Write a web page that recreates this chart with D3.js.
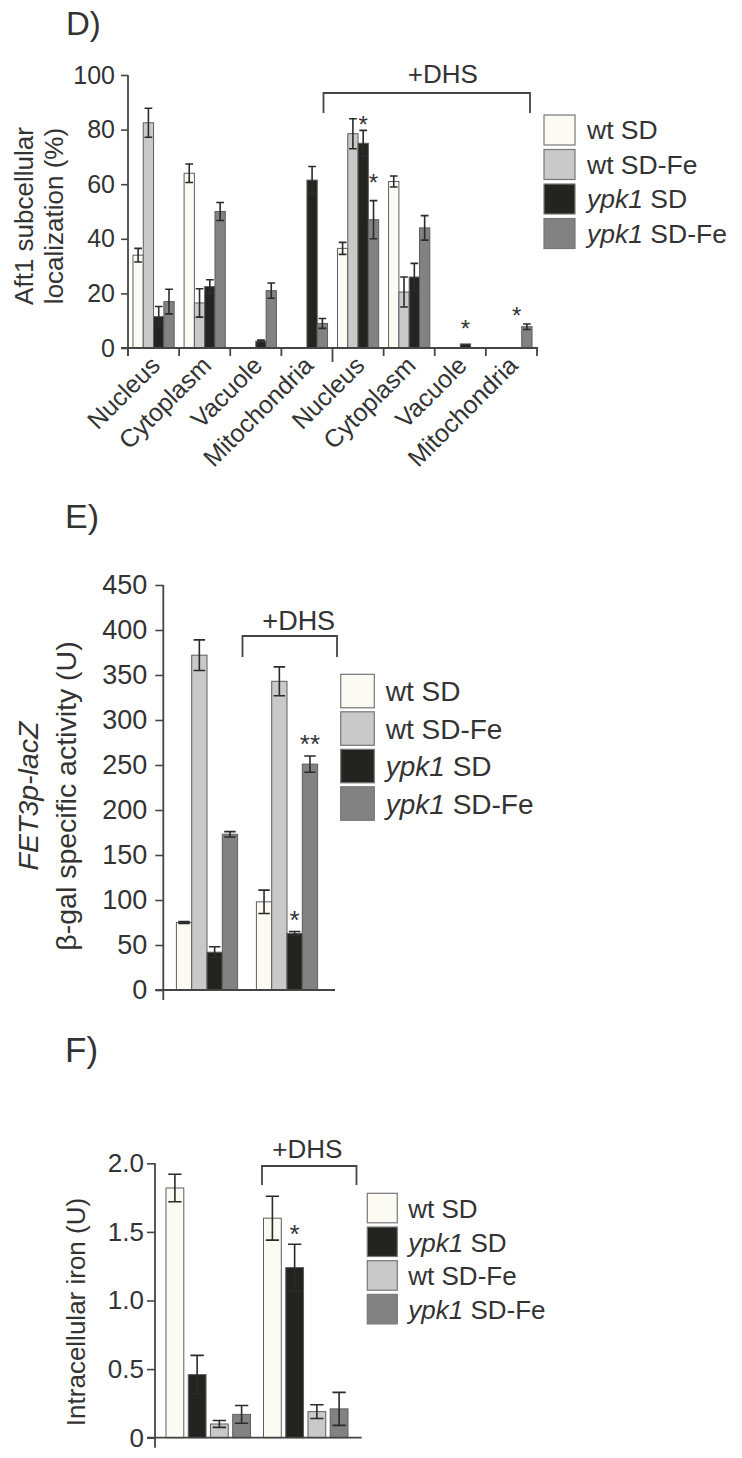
<!DOCTYPE html>
<html><head><meta charset="utf-8">
<script src="https://cdn.jsdelivr.net/npm/d3@7/dist/d3.min.js"></script>
<style>body{margin:0;background:#fff}svg{display:block}</style>
</head><body>
<svg id="c" width="742" height="1458"></svg>
<script>
// ---------------- DATA ----------------
// Panel D: Aft1 subcellular localization (%)
const seriesD = ["wt SD", "wt SD-Fe", "ypk1 SD", "ypk1 SD-Fe"];
const categoriesD = ["Nucleus", "Cytoplasm", "Vacuole", "Mitochondria", "Nucleus", "Cytoplasm", "Vacuole", "Mitochondria"];
const dWtSD       = [34, 64, 0, 0, 36.5, 61, 0, 0];
const dWtSDFe     = [82.5, 16.5, 0, 0, 78.5, 20.5, 0, 0];
const dYpkSD      = [11.5, 22.5, 2.5, 61.5, 75, 26, 1.5, 0];
const dYpkSDFe    = [17, 50, 21, 9, 47, 44, 0, 7.8];
const dWtSDErr    = [2.5, 3.4, 0, 0, 2.2, 2, 0, 0];
const dWtSDFeErr  = [5.3, 5.2, 0, 0, 5.5, 5.5, 0, 0];
const dYpkSDErr   = [3.7, 2.5, 0.4, 5, 4.7, 5, 0, 0];
const dYpkSDFeErr = [4.5, 3.3, 2.8, 1.8, 7, 4.5, 0, 1];
const ticksD = [0, 20, 40, 60, 80, 100];
const tickLabelsD = ["0", "20", "40", "60", "80", "100"];
const sigD = [ {group: 4, series: "ypk1 SD", at: 84, text: "*"},
               {group: 4, series: "ypk1 SD-Fe", at: 62.5, text: "*"},
               {group: 6, series: "ypk1 SD", at: 9, text: "*"},
               {group: 7, series: "ypk1 SD", at: 14, text: "*"} ];

// Panel E: FET3p-lacZ beta-gal specific activity (U)
const seriesE = ["wt SD", "wt SD-Fe", "ypk1 SD", "ypk1 SD-Fe"];
const categoriesE = ["untreated", "+DHS"];
const eWtSD       = [75, 98];
const eWtSDFe     = [372, 343];
const eYpkSD      = [42, 63];
const eYpkSDFe    = [173, 251];
const eWtSDErr    = [1, 13];
const eWtSDFeErr  = [17, 16];
const eYpkSDErr   = [6, 2];
const eYpkSDFeErr = [3, 9];
const ticksE = [0, 50, 100, 150, 200, 250, 300, 350, 400, 450];
const tickLabelsE = ["0", "50", "100", "150", "200", "250", "300", "350", "400", "450"];
const sigE = [ {group: 1, series: "ypk1 SD", at: 85, text: "*"},
               {group: 1, series: "ypk1 SD-Fe", at: 280, text: "**"} ];

// Panel F: Intracellular iron (U)
const seriesF = ["wt SD", "ypk1 SD", "wt SD-Fe", "ypk1 SD-Fe"];
const categoriesF = ["untreated", "+DHS"];
const fWtSD       = [1.82, 1.60];
const fYpkSD      = [0.46, 1.24];
const fWtSDFe     = [0.10, 0.19];
const fYpkSDFe    = [0.17, 0.21];
const fWtSDErr    = [0.10, 0.16];
const fYpkSDErr   = [0.14, 0.17];
const fWtSDFeErr  = [0.025, 0.05];
const fYpkSDFeErr = [0.065, 0.12];
const ticksF = [0, 0.5, 1.0, 1.5, 2.0];
const tickLabelsF = ["0", "0.5", "1.0", "1.5", "2.0"];
const sigF = [ {group: 1, series: "ypk1 SD", at: 1.53, text: "*"} ];

// ---------------- STYLE ----------------
const FONT = "'Liberation Sans', Arial, Helvetica, sans-serif";
const TXT = "#333";
const AX = "#444";
const ERR = "#2b2b2b";
const BAR_STROKE = "#5e5e5e";
const FILL = {"wt SD": "#fbfbf4", "wt SD-Fe": "#c8c9c8", "ypk1 SD": "#23241f", "ypk1 SD-Fe": "#828282"};

const svg = d3.select("#c").attr("font-family", FONT);

function richName(sel, name) {
  if (name.startsWith("ypk1")) {
    sel.append("tspan").attr("font-style", "italic").text("ypk1");
    sel.append("tspan").text(name.slice(4));
  } else sel.text(name);
}

function drawPanel(o) {
  const g = svg.append("g");
  const y = d3.scaleLinear().domain([0, o.yMax]).range([o.yZero, o.yTop]);
  const x0 = d3.scaleBand().domain(d3.range(o.categories.length)).range(o.xRange);
  const bw = x0.bandwidth();
  const x1 = d3.scaleBand().domain(o.series).range([(bw - o.groupW) / 2, (bw + o.groupW) / 2]).paddingInner(o.barPad);
  const rows = [];
  o.series.forEach((s, j) => o.categories.forEach((c, i) => rows.push({i, s, v: o.values[j][i], e: o.errors[j][i]})));
  const bx = d => x0(d.i) + x1(d.s);
  const w = x1.bandwidth();

  // bars
  g.append("g").selectAll("rect").data(rows.filter(d => d.v > 0)).join("rect")
    .attr("x", bx).attr("y", d => y(d.v)).attr("width", w).attr("height", d => y(0) - y(d.v))
    .attr("fill", d => FILL[d.s]).attr("stroke", BAR_STROKE).attr("stroke-width", 1);

  // error bars
  const cw = w * 0.75;
  g.append("g").attr("stroke", ERR).attr("stroke-width", o.errW).attr("fill", "none")
    .selectAll("path").data(rows.filter(d => d.e > 0)).join("path")
    .attr("d", d => {
      const cx = bx(d) + w / 2, t = y(d.v + d.e), b = y(Math.max(0, d.v - d.e));
      return `M${cx},${t}V${b}M${cx - cw / 2},${t}H${cx + cw / 2}M${cx - cw / 2},${b}H${cx + cw / 2}`;
    });

  // significance marks
  g.append("g").selectAll("text").data(o.sig).join("text")
    .attr("x", d => x0(d.group) + x1(d.series) + w / 2)
    .attr("y", d => y(d.at) + 0.58 * o.starFs)
    .attr("text-anchor", "middle").attr("font-size", o.starFs).attr("fill", TXT)
    .text(d => d.text);

  // y axis
  const yAxis = d3.axisLeft(y).tickValues(o.ticks).tickFormat((d, i) => o.tickLabels[i])
    .tickSize(o.tickLen).tickPadding(o.tickPad);
  const ya = g.append("g").attr("transform", `translate(${o.axisX},0)`).call(yAxis)
    .attr("font-family", FONT).attr("font-size", o.tickFs);
  ya.select(".domain").remove();
  ya.selectAll(".tick line").attr("stroke", AX).attr("stroke-width", 1.6);
  ya.selectAll(".tick text").attr("fill", TXT);
  g.append("line").attr("x1", o.axisX).attr("x2", o.axisX)
    .attr("y1", y(o.yMax)).attr("y2", y(0) + o.below)
    .attr("stroke", AX).attr("stroke-width", 1.8);
  // x axis line
  g.append("line").attr("x1", o.axisX - o.tickLen).attr("x2", o.xEnd)
    .attr("y1", y(0)).attr("y2", y(0)).attr("stroke", AX).attr("stroke-width", 1.8);

  // y label (multi-line, rotated)
  o.yLabel.forEach((ln, k) => {
    const t = g.append("text")
      .attr("transform", `translate(${o.yLabelX[k]},${o.yLabelY}) rotate(-90)`)
      .attr("text-anchor", "middle").attr("font-size", o.yLabelFs).attr("fill", TXT);
    if (ln.italic) t.attr("font-style", "italic");
    t.text(ln.text);
  });

  // +DHS bracket over second set
  const b = o.bracket;
  const bl = x0(b.from) + b.padL, br = x0(b.to) + bw - b.padR;
  g.append("path").attr("d", `M${bl},${b.yBot}V${b.yTop}H${br}V${b.yBot}`)
    .attr("fill", "none").attr("stroke", AX).attr("stroke-width", 1.8);
  g.append("text").attr("x", (bl + br) / 2 + b.textDx).attr("y", b.yTop - b.textGap)
    .attr("text-anchor", "middle").attr("font-size", b.fs).attr("fill", TXT).text("+DHS");

  // legend
  const L = o.legend;
  const lg = g.append("g").selectAll("g").data(o.series).join("g")
    .attr("transform", (d, i) => `translate(${L.x},${L.y + i * L.pitch})`);
  lg.append("rect").attr("width", L.w).attr("height", L.h)
    .attr("fill", d => FILL[d]).attr("stroke", "#777").attr("stroke-width", 1.2);
  lg.append("text").attr("x", L.textDx).attr("y", L.h / 2 + L.baseDy)
    .attr("font-size", L.fs).attr("fill", TXT).each(function (d) { richName(d3.select(this), d); });

  // panel letter
  g.append("text").attr("x", o.letter.x).attr("y", o.letter.y)
    .attr("font-size", o.letter.fs).attr("fill", TXT).text(o.letter.text);

  return {g, y, x0, x1, bw};
}

// ---------------- PANEL D ----------------
const pD = drawPanel({
  categories: categoriesD, series: seriesD,
  values: [dWtSD, dWtSDFe, dYpkSD, dYpkSDFe],
  errors: [dWtSDErr, dWtSDFeErr, dYpkSDErr, dYpkSDFeErr],
  yMax: 100, yZero: 348, yTop: 75, xRange: [128, 537], groupW: 41.2, barPad: 0,
  axisX: 128, xEnd: 538, below: 8, tickLen: 7, tickPad: 6, tickFs: 25,
  ticks: ticksD, tickLabels: tickLabelsD, errW: 1.6, sig: sigD, starFs: 24,
  yLabel: [{text: "Aft1 subcellular"}, {text: "localization (%)"}],
  yLabelX: [33, 63], yLabelY: 216, yLabelFs: 26,
  bracket: {from: 4, to: 7, padL: -9, padR: 7, yTop: 93, yBot: 113, textGap: 10, textDx: 16, fs: 26},
  legend: {x: 544, y: 115, pitch: 34.5, w: 31, h: 30, textDx: 43, baseDy: 9, fs: 26.5},
  letter: {x: 66, y: 35, fs: 33, text: "D)"}
});
// D x-axis: boundary ticks and rotated category labels
(function () {
  const {g, y, x0, bw} = pD;
  const bounds = d3.range(categoriesD.length + 1).map(i => i < categoriesD.length ? x0(i) : x0(i - 1) + bw);
  g.append("g").selectAll("line").data(bounds).join("line")
    .attr("x1", d => d).attr("x2", d => d)
    .attr("y1", y(0)).attr("y2", (d, i) => y(0) + (i === 4 ? 14 : 8))
    .attr("stroke", AX).attr("stroke-width", 1.8);
  g.append("g").selectAll("text").data(categoriesD).join("text")
    .attr("transform", (d, i) => `translate(${x0(i) + bw / 2 + 8},367) rotate(-45)`)
    .attr("text-anchor", "end").attr("font-size", 25).attr("fill", TXT).text(d => d);
})();

// ---------------- PANEL E ----------------
drawPanel({
  categories: categoriesE, series: seriesE,
  values: [eWtSD, eWtSDFe, eYpkSD, eYpkSDFe],
  errors: [eWtSDErr, eWtSDFeErr, eYpkSDErr, eYpkSDFeErr],
  yMax: 450, yZero: 990, yTop: 585, xRange: [167, 327], groupW: 61.2, barPad: 0,
  axisX: 163.3, xEnd: 335, below: 10, tickLen: 8, tickPad: 8, tickFs: 27,
  ticks: ticksE, tickLabels: tickLabelsE, errW: 1.6, sig: sigE, starFs: 26,
  yLabel: [{text: "FET3p-lacZ", italic: true}, {text: "β-gal specific activity (U)"}],
  yLabelX: [38, 76], yLabelY: 796, yLabelFs: 28.5,
  bracket: {from: 1, to: 1, padL: -4.5, padR: -10, yTop: 636, yBot: 657, textGap: 6, textDx: 9, fs: 27},
  legend: {x: 340.7, y: 674.3, pitch: 37.5, w: 33.6, h: 33.5, textDx: 45, baseDy: 10, fs: 28},
  letter: {x: 65, y: 528, fs: 34, text: "E)"}
});

// ---------------- PANEL F ----------------
drawPanel({
  categories: categoriesF, series: seriesF,
  values: [fWtSD, fYpkSD, fWtSDFe, fYpkSDFe],
  errors: [fWtSDErr, fYpkSDErr, fWtSDFeErr, fYpkSDFeErr],
  yMax: 2.0, yZero: 1437.7, yTop: 1163.3, xRange: [159.5, 354.5], groupW: 84.5, barPad: 0.2,
  axisX: 155, xEnd: 361.7, below: 10, tickLen: 8, tickPad: 3, tickFs: 26,
  ticks: ticksF, tickLabels: tickLabelsF, errW: 1.6, sig: sigF, starFs: 26,
  yLabel: [{text: "Intracellular iron  (U)"}],
  yLabelX: [85], yLabelY: 1312, yLabelFs: 26,
  bracket: {from: 1, to: 1, padL: 5, padR: -2, yTop: 1166, yBot: 1185, textGap: 8, textDx: -2, fs: 26},
  legend: {x: 367.3, y: 1193.3, pitch: 33.7, w: 30, h: 29.5, textDx: 41, baseDy: 10, fs: 26},
  letter: {x: 65, y: 1062, fs: 35, text: "F)"}
});
</script>
</body></html>
